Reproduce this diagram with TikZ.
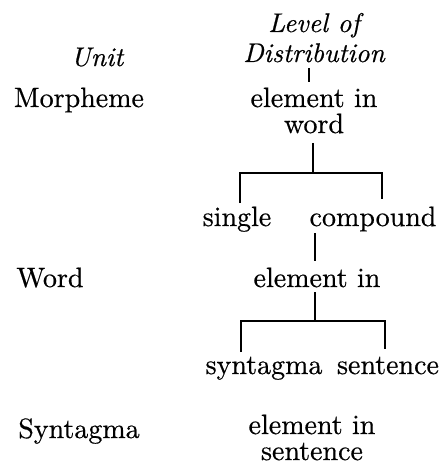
\documentclass[tikz,border=0pt]{standalone}
\usepackage{fontspec}
\setmainfont{lmroman10-regular}[Extension=.otf, ItalicFont=lmroman10-italic, FakeBold=0.5]
\begin{document}
\begin{tikzpicture}[x=1pt,y=-1pt,
  txt/.style={inner sep=0pt,anchor=base,font=\fontsize{28}{30}\selectfont},
  two/.style={inner sep=0pt,anchor=base,align=center,font=\fontsize{28}{26}\selectfont},
  ital/.style={txt,font=\fontsize{27}{30}\selectfont\itshape},
  conn/.style={line width=1.1pt},
  tickline/.style={line width=2.8pt}]
\useasboundingbox (0,0) rectangle (442,465);
% left column
\node[ital] (unit) at (97,66) {Unit};
\node[txt] (morph) at (79,107) {Morpheme};
\node[txt] (wordu) at (50,287) {Word};
\node[txt] (synt) at (79,438) {Syntagma};
% right column
\node[ital] (lev) at (314,32) {Level of};
\node[ital] (dist) at (314,62) {Distribution};
\node[two] (el1) at (314,133) {element in\\word};
\node[txt] (single) at (237,226) {single};
\node[txt] (comp) at (373,226) {compound};
\node[txt] (el2) at (317,287) {element in};
\node[txt] (syn2) at (264,374) {syntagma};
\node[txt] (sen2) at (388,374) {sentence};
\node[two] (el3) at (312,460) {element in\\sentence};
% connectors
\coordinate (t1) at (309,68);
\coordinate (t2) at (309,82);
\draw[tickline] (t1) -- (t2);
\coordinate (a1) at (313,143);
\coordinate (a2) at (313,173);
\coordinate (aL) at (240,173);
\coordinate (aR) at (382,173);
\coordinate (aLd) at (240,203);
\coordinate (aRd) at (382,199);
\draw[conn] (a1) -- (a2);
\draw[conn] (aLd) -- (aL) -- (aR) -- (aRd);
\coordinate (b1) at (315,233);
\coordinate (b2) at (315,261);
\draw[conn] (b1) -- (b2);
\coordinate (c1) at (315,292);
\coordinate (c2) at (315,321);
\coordinate (cL) at (241,321);
\coordinate (cR) at (385,321);
\coordinate (cLd) at (241,352);
\coordinate (cRd) at (385,349);
\draw[conn] (c1) -- (c2);
\draw[conn] (cLd) -- (cL) -- (cR) -- (cRd);
\end{tikzpicture}
\end{document}
